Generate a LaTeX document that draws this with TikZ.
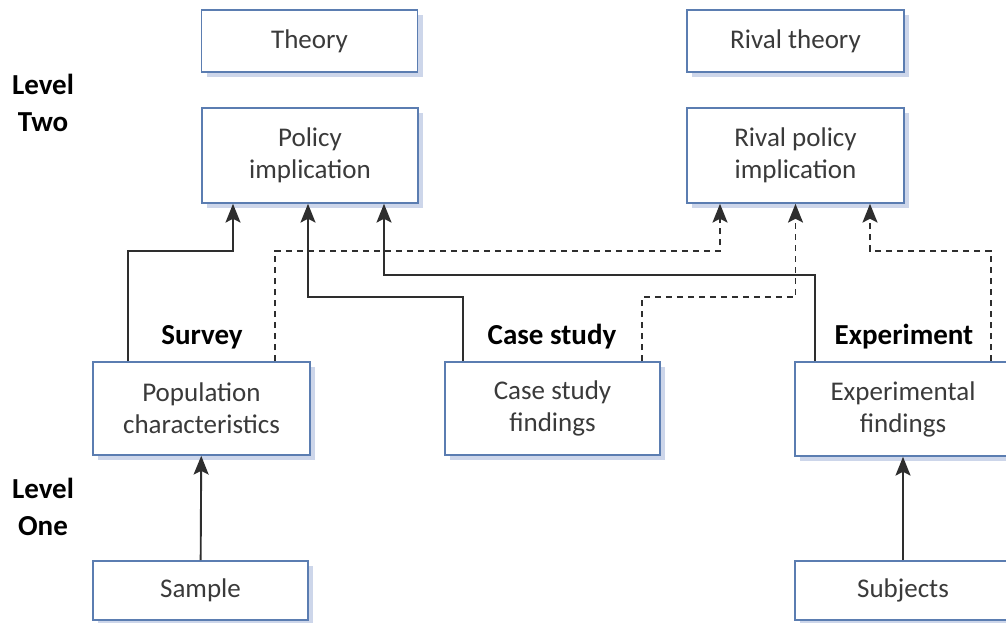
\documentclass[tikz,border=0pt]{standalone}
\usepackage{fontspec}
\setmainfont{Carlito}
\usetikzlibrary{arrows.meta,shadows}
\definecolor{boxborder}{HTML}{5B7DB1}
\definecolor{boxshadow}{HTML}{CDD6EA}
\definecolor{txt}{HTML}{3A3A3A}
\definecolor{linec}{HTML}{2E2E2E}
\tikzset{
  box/.style={draw=boxborder, line width=1.6pt, fill=white, rectangle, inner sep=0pt,
    text=txt, align=center, font=\fontsize{27}{32}\selectfont,
    drop shadow={shadow xshift=5pt, shadow yshift=-5pt, fill=boxshadow, opacity=1}},
  lbl/.style={font=\bfseries\fontsize{29}{37}\selectfont, text=black, align=center, inner sep=0pt},
  conn/.style={draw=linec, line width=1.9pt, -{Stealth[length=15pt, width=12pt, inset=3pt, scale=1.25]}},
  dconn/.style={conn, dash pattern=on 6pt off 5pt},
}
\begin{document}
\begin{tikzpicture}[x=1pt,y=1pt]
\useasboundingbox (0,0) rectangle (1006,-622);
\clip (0,0) rectangle (1006,-622);
% boxes
\node[box, minimum width=216pt, minimum height=62pt] (theory) at (309.5,-41) {Theory};
\node[box, minimum width=217pt, minimum height=62pt] (rtheory) at (795.5,-41) {Rival theory};
\node[box, minimum width=216pt, minimum height=95pt] (policy) at (310,-155.5) {Policy\\implication};
\node[box, minimum width=217pt, minimum height=95pt] (rpolicy) at (795.5,-155.5) {Rival policy\\implication};
\node[box, minimum width=217pt, minimum height=93pt] (pop) at (201.5,-408.5) {Population\\characteristics};
\node[box, minimum width=215pt, minimum height=93pt] (case) at (552.5,-408.5) {Case study\\findings};
\node[box, minimum width=216pt, minimum height=94pt] (exp) at (903,-409) {Experimental\\findings};
\node[box, minimum width=215pt, minimum height=59pt] (sample) at (200.5,-590.5) {Sample};
\node[box, minimum width=216pt, minimum height=59pt] (subj) at (903,-590.5) {Subjects};
% labels
\node[lbl] (survey) at (202,-337) {Survey};
\node[lbl] (caselbl) at (552,-337) {Case study};
\node[lbl] (explbl) at (904,-337) {Experiment};
\node[lbl] (lvltwo) at (43,-103) {Level\\Two};
\node[lbl] (lvlone) at (43,-507) {Level\\One};
% turning levels
\coordinate (ya) at (0,-251);
\coordinate (yb) at (0,-297);
\coordinate (yc) at (0,-275);
% solid connectors
\draw[conn] ([xshift=-73.5pt]pop.north) -- ([xshift=-73.5pt]pop.north |- ya) -| ([xshift=-77pt]policy.south);
\draw[conn] ([xshift=-89.5pt]case.north) -- ([xshift=-89.5pt]case.north |- yb) -| ([xshift=-2pt]policy.south);
\draw[conn] ([xshift=-88pt]exp.north) -- ([xshift=-88pt]exp.north |- yc) -| ([xshift=74pt]policy.south);
% dashed connectors
\draw[dconn] ([xshift=73.5pt]pop.north) -- ([xshift=73.5pt]pop.north |- ya) -| ([xshift=-75.5pt]rpolicy.south);
\draw[dconn] ([xshift=89.5pt]case.north) -- ([xshift=89.5pt]case.north |- yb) -| ([xshift=0pt]rpolicy.south);
\draw[dconn] ([xshift=88pt]exp.north) -- ([xshift=88pt]exp.north |- ya) -| ([xshift=74.5pt]rpolicy.south);
% level one arrows
\draw[conn] (sample) -- (pop);
\draw[conn] (subj) -- (exp);
\end{tikzpicture}
\end{document}
